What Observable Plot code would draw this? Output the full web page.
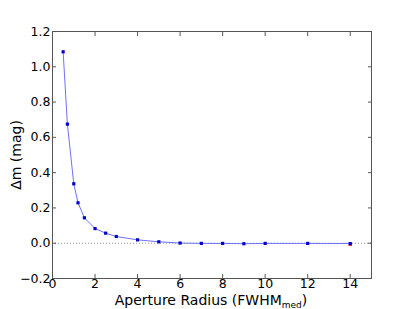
<!DOCTYPE html>
<html><head><meta charset="utf-8">
<script src="https://cdn.jsdelivr.net/npm/d3@7"></script>
<script src="https://cdn.jsdelivr.net/npm/@observablehq/plot@0.6"></script>
<style>
body{margin:0;background:#fff;}
#wrap{position:relative;width:412px;height:309px;font-family:"DejaVu Sans",sans-serif;overflow:hidden;}
#xl{position:absolute;left:0;width:422px;top:294px;text-align:center;font-size:14px;line-height:12px;color:#000;white-space:nowrap;}
#xl sub{font-size:9px;vertical-align:-3px;line-height:0;}
#yl{position:absolute;left:16px;top:155px;transform:translate(-50%,-50%) rotate(-90deg);font-size:14px;white-space:nowrap;}
</style></head>
<body><div id="wrap"><div id="chart"></div>
<div id="xl">Aperture Radius (FWHM<sub>med</sub>)</div>
<div id="yl">Δm (mag)</div></div>
<script>
const radius = [0.5, 0.7, 1.0, 1.2, 1.5, 2, 2.5, 3, 4, 5, 6, 7, 8, 9, 10, 12, 14];
const deltaM = [1.085, 0.675, 0.337, 0.229, 0.144, 0.083, 0.057, 0.038, 0.019, 0.008, 0.001, -0.001, -0.001, -0.003, -0.001, -0.001, -0.002];
const redX = [14];
const redY = [-0.006];
const xTicks = [0, 2, 4, 6, 8, 10, 12, 14];
const yTicks = [-0.2, 0, 0.2, 0.4, 0.6, 0.8, 1.0, 1.2];

const data = radius.map((r, i) => ({r, m: deltaM[i]}));
const red = redX.map((r, i) => ({r, m: redY[i]}));
const fmtY = d => (d < 0 ? "\u2212" : "") + Math.abs(d).toFixed(1);

const chart = Plot.plot({
  width: 412, height: 309,
  marginLeft: 52, marginRight: 41, marginTop: 31, marginBottom: 31,
  style: {fontFamily: "DejaVu Sans, sans-serif", fontSize: "12px", color: "#000", background: "#fff"},
  x: {domain: [0, 15]},
  y: {domain: [-0.2, 1.2]},
  marks: [
    Plot.ruleY([0], {stroke: "#999", strokeDasharray: "1,2", strokeWidth: 1}),
    Plot.dot(red, {x: "r", y: "m", r: 1.8, symbol: "square", fill: "red", stroke: "none"}),
    Plot.line(data, {x: "r", y: "m", stroke: "#7070ff", strokeWidth: 1}),
    Plot.dot(data, {x: "r", y: "m", r: 1.8, symbol: "square", fill: "#0000cc", stroke: "none"}),
    Plot.axisX({ticks: xTicks, tickSize: 0, tickPadding: 1, label: null, fontSize: 12.5}),
    Plot.axisX({ticks: xTicks, tickSize: -4, tickFormat: () => "", label: null, stroke: "#555"}),
    Plot.axisX({anchor: "top", ticks: xTicks, tickSize: -4, tickFormat: () => "", label: null, stroke: "#555"}),
    Plot.axisY({ticks: yTicks, tickSize: 0, tickPadding: 2, tickFormat: fmtY, label: null, fontSize: 12.5}),
    Plot.axisY({ticks: yTicks, tickSize: -4, tickFormat: () => "", label: null, stroke: "#555"}),
    Plot.axisY({anchor: "right", ticks: yTicks, tickSize: -4, tickFormat: () => "", label: null, stroke: "#555"}),
    Plot.frame({stroke: "#555", strokeWidth: 1})
  ]
});
document.getElementById("chart").appendChild(chart);
</script></body></html>
